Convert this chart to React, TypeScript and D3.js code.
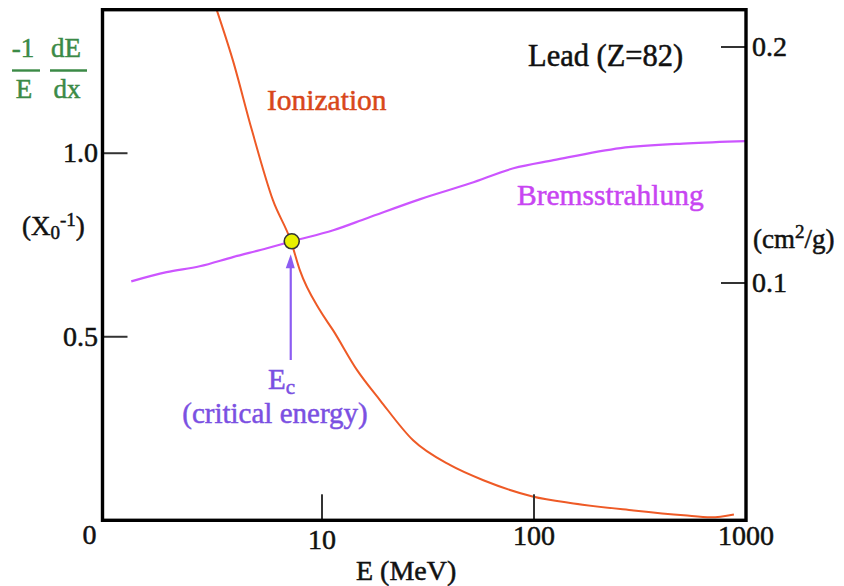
import React from "react";
import * as d3 from "d3";

// ---- data (E in MeV, values in X0^-1 units of left axis) ----
const ionE = [3.19, 3.8, 4.67, 5.87, 7.14, 7.87, 9.78, 11.27, 14.64, 18.8, 26.9, 40.3, 57.7, 98.4, 153.7, 295, 509, 683, 877];
const ionV = [1.39, 1.253, 1.063, 0.872, 0.76, 0.681, 0.572, 0.518, 0.409, 0.327, 0.218, 0.15, 0.109, 0.065, 0.046, 0.027, 0.0136, 0.008, 0.016];
const bremE = [1.26, 1.85, 2.65, 3.8, 5.5, 7.21, 11.3, 16.3, 29.1, 50.1, 80.0, 123.6, 256, 532, 1000];
const bremV = [0.651, 0.676, 0.692, 0.717, 0.741, 0.76, 0.79, 0.823, 0.875, 0.918, 0.959, 0.981, 1.014, 1.027, 1.033];
const critE = 7.2;
const critV = 0.76;
const xTickVals = [10, 100, 1000];
const xTickLabels = ["10", "100", "1000"];
const leftTickVals = [0.5, 1.0];
const leftTickLabels = ["0.5", "1.0"];
const rightTickVals = [0.1, 0.2];
const rightTickLabels = ["0.1", "0.2"];

const W = 844, H = 586;
const L = 102.5, R = 746, T = 9.7, B = 520.3;
const E0 = 0.922;

const FONT = "'Liberation Serif', 'Times New Roman', serif";
const GREEN = "#3b8a46";
const ORANGE_LINE = "#ee5a26";
const ORANGE_TEXT = "#d8471a";
const MAG_LINE = "#cc55ff";
const MAG_TEXT = "#c845f2";
const PURPLE = "#7b50e2";
const INK = "#111";
const SW = 0.5;

export default function App() {
  const x = d3.scaleLog().domain([E0, 1000]).range([L, R]);
  const y = d3.scaleLinear().domain([0, 1.391]).range([B, T]);
  const yR = d3.scaleLinear().domain([0.1, 0.2]).range([283, 47]);

  const line = d3
    .line<[number, number]>()
    .x((d) => x(d[0]))
    .y((d) => y(d[1]))
    .curve(d3.curveMonotoneX);

  const ion = line(ionE.map((e, i) => [e, ionV[i]] as [number, number])) || "";
  const brem = line(bremE.map((e, i) => [e, bremV[i]] as [number, number])) || "";

  const cx = x(critE);
  const cy = y(critV);

  return (
    <svg
      width={W}
      height={H}
      style={{ position: "absolute", left: 0, top: 0, background: "#fff" }}
      fontFamily={FONT}
    >
      <rect x={0} y={0} width={W} height={H} fill="#fff" />
      <defs>
        <clipPath id="plot">
          <rect x={L} y={T} width={R - L} height={B - T} />
        </clipPath>
      </defs>

      {/* curves */}
      <g clipPath="url(#plot)">
        <path d={brem} fill="none" stroke={MAG_LINE} strokeWidth={2.2} />
        <path d={ion} fill="none" stroke={ORANGE_LINE} strokeWidth={2} />
      </g>

      {/* bottom ticks */}
      {xTickVals.slice(0, 2).map((v) => (
        <line key={"xt" + v} x1={x(v)} x2={x(v)} y1={B} y2={B - 26} stroke="#333" strokeWidth={2} />
      ))}
      {/* left ticks */}
      {leftTickVals.map((v) => (
        <line key={"lt" + v} x1={L} x2={L + 25} y1={y(v)} y2={y(v)} stroke="#333" strokeWidth={2} />
      ))}
      {/* right ticks */}
      {rightTickVals.map((v) => (
        <line key={"rt" + v} x1={R} x2={R - 25} y1={yR(v)} y2={yR(v)} stroke="#333" strokeWidth={2} />
      ))}

      {/* frame */}
      <rect x={L} y={T} width={R - L} height={B - T} fill="none" stroke="#000" strokeWidth={3.4} />

      <g fill={INK} stroke={INK} strokeWidth={SW}>
        {/* x tick labels */}
        <text x={x(E0) - 13} y={544} fontSize={28} textAnchor="middle">0</text>
        {xTickVals.map((v, i) => (
          <text key={"xl" + v} x={x(v)} y={v === 10 ? 549 : 545} fontSize={28} textAnchor="middle">
            {xTickLabels[i]}
          </text>
        ))}
        <text x={356} y={580} fontSize={28}>E (MeV)</text>

        {/* left tick labels */}
        {leftTickVals.map((v, i) => (
          <text key={"ll" + v} x={98} y={y(v) + 9} fontSize={28} textAnchor="end">
            {leftTickLabels[i]}
          </text>
        ))}
        {/* right tick labels */}
        {rightTickVals.map((v, i) => (
          <text key={"rl" + v} x={752} y={yR(v) + 9} fontSize={28}>
            {rightTickLabels[i]}
          </text>
        ))}

        {/* (X0^-1) */}
        <text x={22} y={235} fontSize={27}>
          (X
          <tspan fontSize={19} dy={4}>0</tspan>
          <tspan fontSize={19} dy={-13}>-1</tspan>
          <tspan dy={9}>)</tspan>
        </text>

        {/* (cm^2/g) */}
        <text x={753} y={248} fontSize={27}>
          (cm
          <tspan fontSize={19} dy={-10}>2</tspan>
          <tspan dy={10}>/g)</tspan>
        </text>

        <text x={528} y={66} fontSize={30.5}>Lead (Z=82)</text>
      </g>

      {/* left axis title: -1/E dE/dx */}
      <g fill={GREEN} stroke={GREEN} strokeWidth={SW} fontSize={27}>
        <text x={23} y={57} textAnchor="middle">-1</text>
        <text x={24} y={98} textAnchor="middle">E</text>
        <text x={66} y={57} textAnchor="middle">dE</text>
        <text x={67} y={98} textAnchor="middle">dx</text>
      </g>
      <line x1={12} x2={40} y1={70.5} y2={70.5} stroke={GREEN} strokeWidth={2.4} />
      <line x1={50} x2={87} y1={70.5} y2={70.5} stroke={GREEN} strokeWidth={2.4} />

      {/* labels */}
      <text x={267} y={110} fontSize={29.5} fill={ORANGE_TEXT} stroke={ORANGE_TEXT} strokeWidth={SW}>Ionization</text>
      <text x={517} y={205} fontSize={29.5} fill={MAG_TEXT} stroke={MAG_TEXT} strokeWidth={SW}>Bremsstrahlung</text>

      {/* arrow */}
      <line x1={cx - 1} x2={cx - 1} y1={360} y2={262} stroke="#8c5cf2" strokeWidth={2.2} />
      <path d={`M${cx - 1},${cy + 13} L${cx - 6},${cy + 27} L${cx + 3},${cy + 27} Z`} fill="#8c5cf2" />

      {/* critical point */}
      <circle cx={cx} cy={cy} r={7.5} fill="#e8f000" stroke="#333" strokeWidth={1.6} />

      {/* Ec label */}
      <g fill={PURPLE} stroke={PURPLE} strokeWidth={SW}>
        <text x={268} y={389} fontSize={29}>
          E
          <tspan fontSize={21} dy={5}>c</tspan>
        </text>
        <text x={275} y={423} fontSize={29} textAnchor="middle">(critical energy)</text>
      </g>
    </svg>
  );
}
